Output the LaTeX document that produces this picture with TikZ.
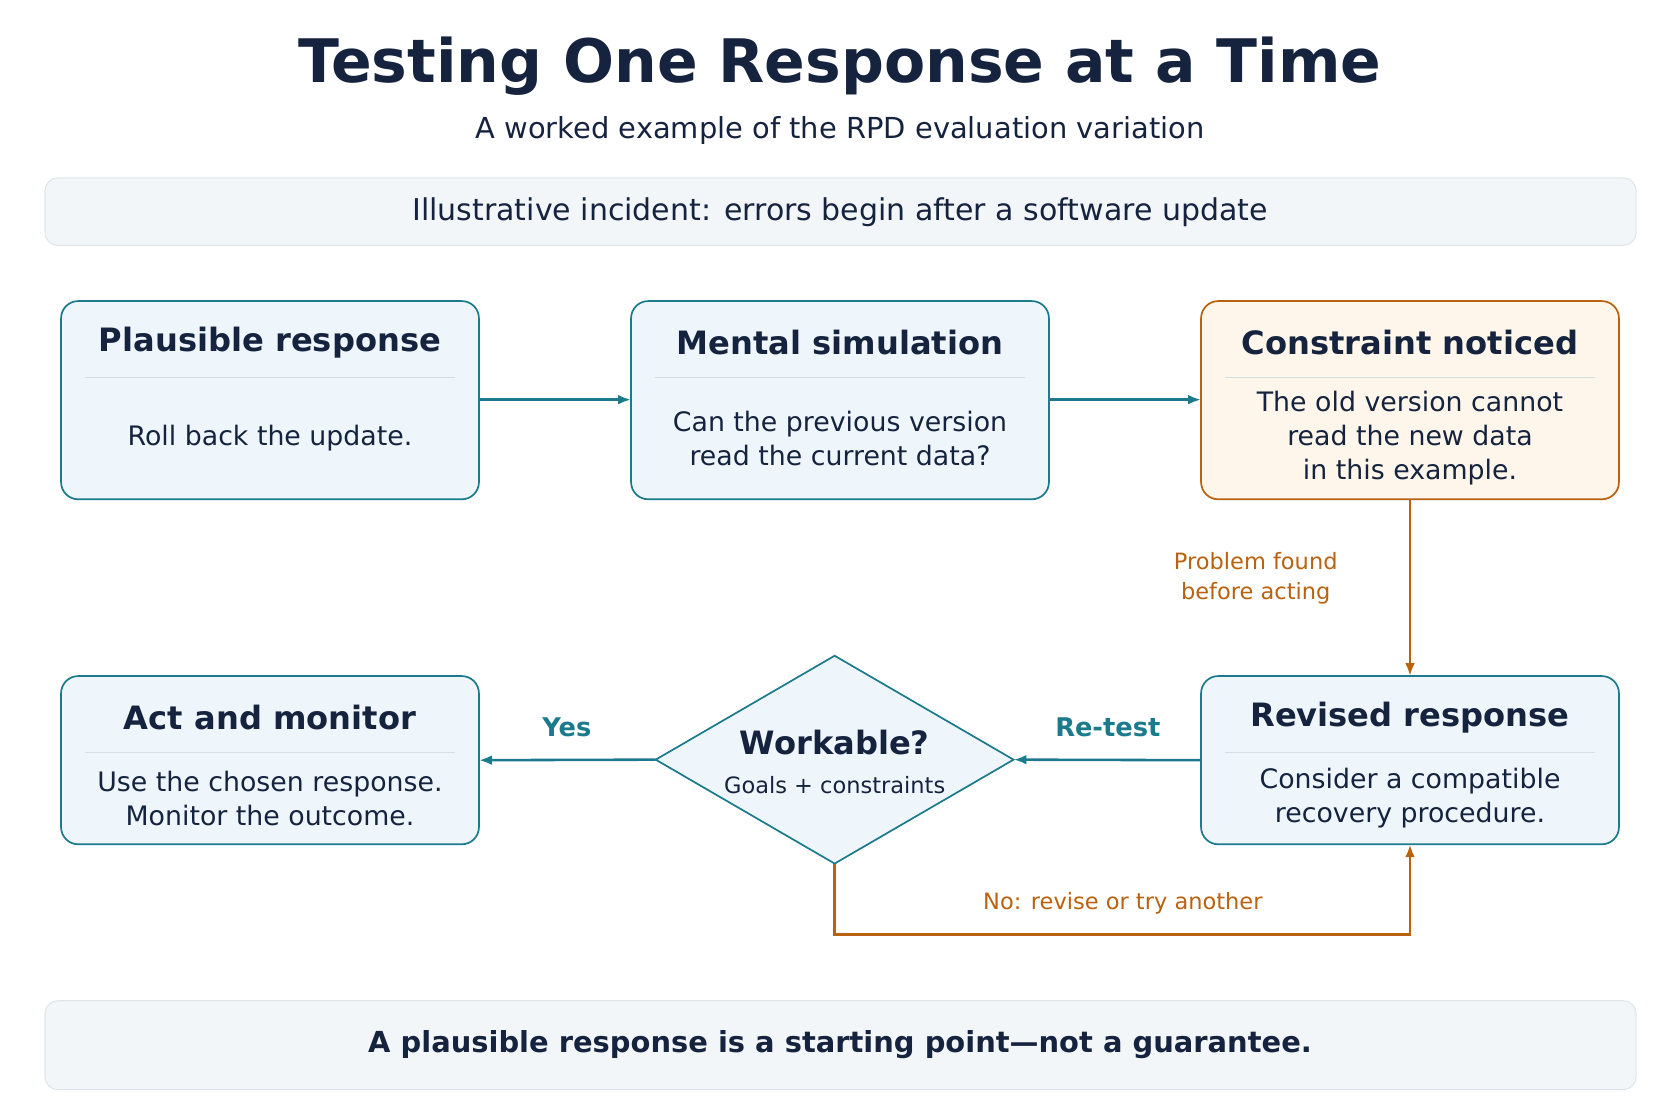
\documentclass[tikz,border=0pt]{standalone}
\usepackage{fontspec}
\setmainfont{DejaVu Sans}
\usetikzlibrary{arrows.meta, positioning, shapes.geometric, calc}
\definecolor{navy}{HTML}{15233F}
\definecolor{teal}{HTML}{1B7A8C}
\definecolor{tealfill}{HTML}{EEF6FB}
\definecolor{orng}{HTML}{B9620F}
\definecolor{orngfill}{HTML}{FEF6EA}
\definecolor{bandfill}{HTML}{F3F6F8}
\definecolor{bandline}{HTML}{DFE5EA}
\definecolor{sepline}{HTML}{D6DEE3}
\tikzset{
    band/.style={draw=bandline, fill=bandfill, rounded corners=12pt, line width=1pt},
    card/.style={draw=teal, fill=tealfill, rounded corners=16pt, line width=1.6pt},
    warncard/.style={card, draw=orng, fill=orngfill},
    head/.style={font=\fontsize{30}{36}\selectfont\bfseries, text=navy},
    body/.style={font=\fontsize{25}{32}\selectfont, text=navy, align=center},
    flow/.style={draw=teal, line width=2.4pt, -{Latex[length=12pt,width=9pt]}},
    warnflow/.style={flow, draw=orng},
    tag/.style={font=\fontsize{24}{30}\selectfont\bfseries, text=teal},
    warntag/.style={font=\fontsize{21}{28}\selectfont, text=orng, align=center},
}
\newcommand{\Card}[6]{% style, name, x0, y0, x1, y1
  \path[#1] (#3,#4) rectangle (#5,#6);
  \coordinate (#2) at ($(#3,#4)!0.5!(#5,#6)$);
  \coordinate (#2-w) at (#3,{(#4+#6)/2});
  \coordinate (#2-e) at (#5,{(#4+#6)/2});
  \coordinate (#2-n) at ({(#3+#5)/2},#4);
  \coordinate (#2-s) at ({(#3+#5)/2},#6);
  \draw[sepline, line width=1pt] ({#3+22},#4+71) -- ({#5-22},#4+71);
}
\begin{document}
\begin{tikzpicture}[x=1pt, y=-1pt]
    \useasboundingbox (0,0) rectangle (1568,1045);

    \node[font=\fontsize{56}{66}\selectfont\bfseries, text=navy] (title) at (784,62) {Testing One Response at a Time};
    \node[font=\fontsize{27}{32}\selectfont, text=navy] (subtitle) at (784,122) {A worked example of the RPD evaluation variation};

    \path[band] (42,166) rectangle (1527,229);
    \node[font=\fontsize{28}{32}\selectfont, text=navy] (incident) at (784,198) {Illustrative incident: errors begin after a software update};

    % top row
    \Card{card}{plaus}{57}{281}{447}{466}
    \node[head] (plaus-h) at (252,320) {Plausible response};
    \node[body] (plaus-b) at (252,409) {Roll back the update.};

    \Card{card}{sim}{589}{281}{979}{466}
    \node[head] (sim-h) at (784,320) {Mental simulation};
    \node[body] (sim-b) at (784,409) {Can the previous version\\read the current data?};

    \Card{warncard}{noticed}{1121}{281}{1511}{466}
    \node[head] (noticed-h) at (1316,320) {Constraint noticed};
    \node[body] (noticed-b) at (1316,409) {The old version cannot\\read the new data\\in this example.};

    % bottom row
    \Card{card}{act}{57}{631}{447}{788}
    \node[head] (act-h) at (252,670) {Act and monitor};
    \node[body] (act-b) at (252,745) {Use the chosen response.\\Monitor the outcome.};

    \Card{card}{rev}{1121}{631}{1511}{788}
    \node[head] (rev-h) at (1316,670) {Revised response};
    \node[body] (rev-b) at (1316,745) {Consider a compatible\\recovery procedure.};

    \path[draw=teal, fill=tealfill, line width=1.6pt] (612,709) -- (779,612) -- (946,709) -- (779,806) -- cycle;
    \coordinate (work-w) at (612,709);
    \coordinate (work-e) at (946,709);
    \coordinate (work-s) at (779,806);
    \node[head] (work-h) at (779,693) {Workable?};
    \node[font=\fontsize{21}{26}\selectfont, text=navy] (work-b) at (779,733) {Goals + constraints};

    % connectors
    \draw[flow] (plaus-e |- 0,373) -- (sim-w |- 0,373);
    \draw[flow] (sim-e |- 0,373) -- (noticed-w |- 0,373);
    \draw[warnflow] (noticed-s) -- (rev-n);
    \node[warntag] (found) at (1172,540) {Problem found\\before acting};
    \draw[flow] (rev-w) -- (work-e);
    \node[tag] (retest) at (1034,679) {Re-test};
    \draw[flow] (work-w) -- (act-e);
    \node[tag] (yes) at (529,679) {Yes};
    \draw[warnflow] (work-s) -- (779,872) -- (rev-s |- 0,872) -- (rev-s);
    \node[warntag] (no) at (1048,843) {No: revise or try another};

    \path[band] (42,934) rectangle (1527,1017);
    \node[font=\fontsize{27}{32}\selectfont\bfseries, text=navy] (moral) at (784,975) {A plausible response is a starting point—not a guarantee.};
\end{tikzpicture}
\end{document}
